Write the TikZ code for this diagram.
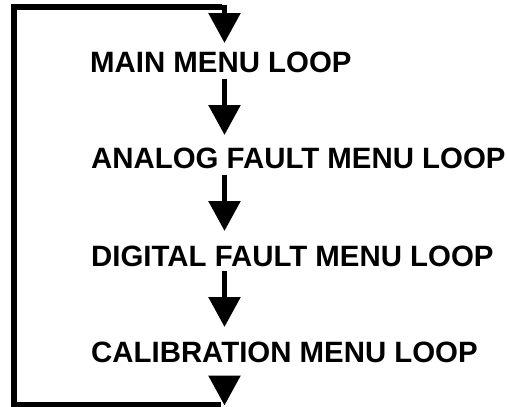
\documentclass[tikz,border=0pt]{standalone}
\usepackage{fontspec}
\setmainfont{Liberation Sans}
\usetikzlibrary{arrows.meta}
\begin{document}
\begin{tikzpicture}[x=1pt,y=-1pt,
  lbl/.style={anchor=base west,inner sep=0pt,font=\fontsize{29.4}{34}\selectfont\bfseries},
  flow/.style={line width=5.6pt,-{Triangle[length=30pt,width=31pt]}},
  loopline/.style={line width=5.6pt,line join=miter}]
\useasboundingbox (0,0) rectangle (507,407);
\node[lbl] (main) at (90,72) {MAIN MENU LOOP};
\node[lbl] (analog) at (91,168) {ANALOG FAULT MENU LOOP};
\node[lbl] (digital) at (91,266) {DIGITAL FAULT MENU LOOP};
\node[lbl] (calib) at (91,362) {CALIBRATION MENU LOOP};
\coordinate (s0) at (224.5,5);
\coordinate (t0) at (224.5,43);
\coordinate (s1) at (224.5,79);
\coordinate (t1) at (224.5,135);
\coordinate (s2) at (224.5,175);
\coordinate (t2) at (224.5,231);
\coordinate (s3) at (224.5,271);
\coordinate (t3) at (224.5,327);
\coordinate (s4) at (224.5,375.5);
\coordinate (t4) at (224.5,405.5);
\coordinate (bl) at (14,404.5);
\coordinate (tl) at (14,7);
\coordinate (br) at (221,404.5);
\coordinate (tr) at (222,7);
\draw[loopline] (br) -- (bl) -- (tl) -- (tr);
\draw[flow] (s0) -- (t0);
\draw[flow] (s1) -- (t1);
\draw[flow] (s2) -- (t2);
\draw[flow] (s3) -- (t3);
\draw[flow] (s4) -- (t4);
\end{tikzpicture}
\end{document}
